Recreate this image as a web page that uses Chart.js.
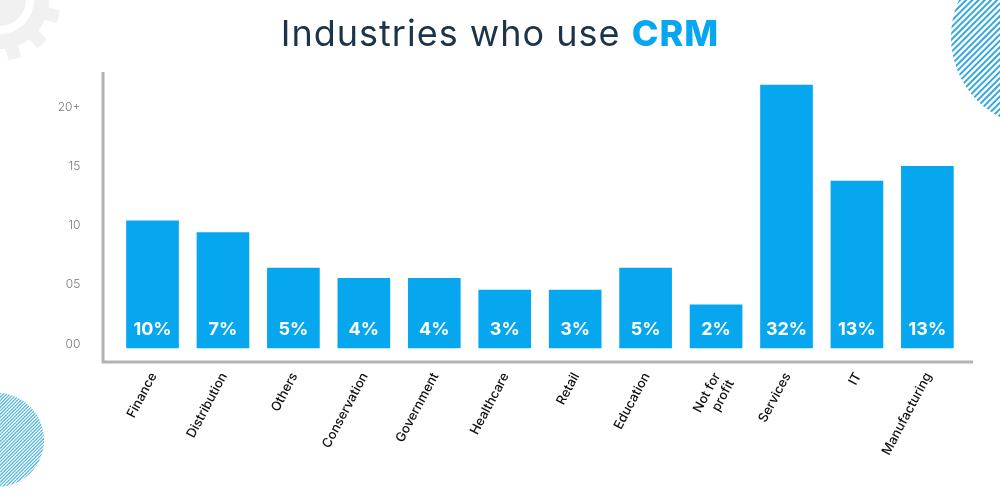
<!DOCTYPE html>
<html>
<head>
<meta charset="utf-8">
<style>
  html, body { margin: 0; padding: 0; background: #fff; }
  #wrap { position: relative; width: 1000px; height: 500px; overflow: hidden; }
</style>
<script src="https://cdn.jsdelivr.net/npm/chart.js@4"></script>
</head>
<body>
<div id="wrap"><canvas id="chart" width="1000" height="500"></canvas></div>
<script>
const categories = ['Finance', 'Distribution', 'Others', 'Conservation', 'Government', 'Healthcare', 'Retail', 'Education', ['Not for', 'profit'], 'Services', 'IT', 'Manufacturing'];
const barValues = [10.4, 9.4, 6.4, 5.55, 5.55, 4.55, 4.55, 6.4, 3.3, 21.85, 13.75, 15];
const shareLabels = ['10%', '7%', '5%', '4%', '4%', '3%', '3%', '5%', '2%', '32%', '13%', '13%'];
const tickValues = [0, 5, 10, 15, 20];
const tickLabels = ['00', '05', '10', '15', '20+'];

const FONT = 'Inter, "Open Sans", sans-serif';
const BLUE = '#07a7f0';

// hatched circle, clipped to its outline
function hatchCircle(ctx, cx, cy, r, gap, lineW, color) {
  ctx.save();
  ctx.beginPath();
  ctx.arc(cx, cy, r, 0, Math.PI * 2);
  ctx.clip();
  ctx.strokeStyle = color;
  ctx.lineWidth = lineW;
  for (let d = -2 * r; d < 2 * r; d += gap) {
    ctx.beginPath();
    ctx.moveTo(cx + d - r * 1.5, cy + r * 1.5);
    ctx.lineTo(cx + d + r * 1.5, cy - r * 1.5);
    ctx.stroke();
  }
  ctx.restore();
}

function gear(ctx, cx, cy, outer, inner, teeth) {
  ctx.save();
  ctx.fillStyle = '#f1f1f1';
  ctx.beginPath();
  const step = Math.PI * 2 / teeth;
  for (let i = 0; i < teeth; i++) {
    const a = i * step + 0.28;
    ctx.arc(cx, cy, inner, a - step * 0.5, a - step * 0.26);
    ctx.arc(cx, cy, outer, a - step * 0.2, a + step * 0.2);
    ctx.arc(cx, cy, inner, a + step * 0.26, a + step * 0.5);
  }
  ctx.closePath();
  ctx.fill();
  ctx.fillStyle = '#fff';
  ctx.beginPath();
  ctx.arc(cx, cy, 34, 0, Math.PI * 2);
  ctx.fill();
  ctx.fillStyle = '#f1f1f1';
  ctx.beginPath();
  ctx.arc(cx, cy, 26, 0, Math.PI * 2);
  ctx.fill();
  ctx.restore();
}

const decorations = {
  id: 'decorations',
  beforeDraw(chart) {
    const ctx = chart.ctx;
    gear(ctx, 0, 0, 61, 49, 12);
    hatchCircle(ctx, 1041, 37, 90, 6.2, 2, '#35a8dc');
    hatchCircle(ctx, -3, 440, 47, 3.4, 1.1, '#45afdd');
  },
};

const heading = {
  id: 'heading',
  afterDraw(chart) {
    const ctx = chart.ctx;
    const partA = 'Industries who use ';
    const partB = 'CRM';
    ctx.save();
    ctx.textBaseline = 'alphabetic';
    ctx.textAlign = 'left';
    ctx.letterSpacing = '1px';
    const fontA = '400 36px ' + FONT;
    const fontB = '800 36px ' + FONT;
    ctx.font = fontA;
    const wA = ctx.measureText(partA).width;
    ctx.font = fontB;
    const wB = ctx.measureText(partB).width;
    const x = 500 - (wA + wB) / 2;
    ctx.font = fontA;
    ctx.fillStyle = '#1c3449';
    ctx.fillText(partA, x, 46);
    ctx.font = fontB;
    ctx.fillStyle = BLUE;
    ctx.fillText(partB, x + wA, 46);
    ctx.restore();
  },
};

const axisLines = {
  id: 'axisLines',
  afterDraw(chart) {
    const ctx = chart.ctx;
    const y = chart.scales.y;
    const bottom = y.getPixelForValue(y.min);
    ctx.save();
    ctx.strokeStyle = '#b3b3b3';
    ctx.lineWidth = 3;
    ctx.beginPath();
    ctx.moveTo(103, y.getPixelForValue(y.max));
    ctx.lineTo(103, bottom);
    ctx.lineTo(973, bottom);
    ctx.stroke();
    ctx.restore();
  },
};

const shareText = {
  id: 'shareText',
  afterDatasetsDraw(chart) {
    const ctx = chart.ctx;
    const bars = chart.getDatasetMeta(0).data;
    ctx.save();
    ctx.fillStyle = '#fff';
    ctx.font = '700 18px ' + FONT;
    ctx.textAlign = 'center';
    ctx.textBaseline = 'middle';
    bars.forEach((bar, i) => {
      ctx.fillText(shareLabels[i], bar.x, chart.scales.y.getPixelForValue(1.25));
    });
    ctx.restore();
  },
};

new Chart(document.getElementById('chart'), {
  type: 'bar',
  data: {
    labels: categories,
    datasets: [{
      data: barValues,
      base: -0.34,
      backgroundColor: BLUE,
      barThickness: 52,
      borderWidth: 0,
    }],
  },
  options: {
    responsive: false,
    animation: false,
    layout: { padding: { top: 72, right: 37.4, bottom: 0, left: 0 } },
    plugins: { legend: { display: false }, tooltip: { enabled: false } },
    scales: {
      x: {
        grid: { display: false },
        border: { display: false },
        ticks: {
          color: '#111',
          font: { family: FONT, size: 13, weight: 500 },
          minRotation: 62,
          maxRotation: 62,
          padding: 0,
          labelOffset: 1,
          autoSkip: false,
        },
        afterFit(scale) { scale.height = 138; },
      },
      y: {
        min: -1.52,
        max: 22.95,
        grid: { display: false },
        border: { display: false },
        afterBuildTicks(scale) { scale.ticks = tickValues.map(v => ({ value: v })); },
        ticks: {
          color: '#777',
          font: { family: FONT, size: 12, weight: 300 },
          padding: 29,
          callback(value) { return tickLabels[tickValues.indexOf(value)]; },
        },
        afterFit(scale) { scale.width = 117.3; },
      },
    },
  },
  plugins: [decorations, heading, axisLines, shareText],
});
</script>
</body>
</html>
